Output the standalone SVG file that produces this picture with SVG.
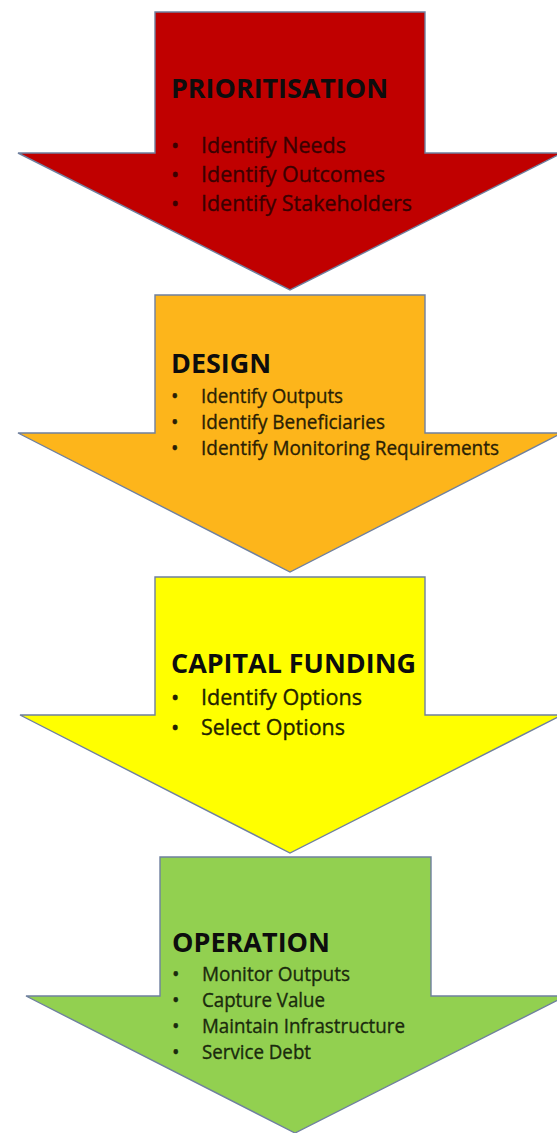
<svg xmlns="http://www.w3.org/2000/svg" width="557" height="1133" viewBox="0 0 557 1133">
<style>
.arrow{stroke:#6f809f;stroke-width:1.4;stroke-linejoin:miter}
.title{font-family:"Open Sans","Liberation Sans",sans-serif;font-weight:bold;font-size:26px;fill:#0d0d0d}
.item{font-family:"Open Sans","Liberation Sans",sans-serif;font-size:20px;stroke-width:0.35}
.b1{fill:#3a0000;stroke:#3a0000;font-size:22px}
.b2{fill:#2a1f05;stroke:#2a1f05}
.b3{fill:#222200;stroke:#222200;font-size:22px}
.b4{fill:#1a2a0d;stroke:#1a2a0d}
</style>
<rect width="557" height="1133" fill="#ffffff"/>
<g id="connectors"/>
<g id="prioritisation">
<polygon class="arrow" fill="#C00000" points="155,12 425,12 425,153 562,153 290,290 18,153 155,153"/>
<text class="title" x="171" y="98" textLength="217" lengthAdjust="spacingAndGlyphs">PRIORITISATION</text>
<g class="item b1">
<text x="171" y="153">•</text><text x="201" y="153" textLength="145" lengthAdjust="spacingAndGlyphs">Identify Needs</text>
<text x="171" y="182">•</text><text x="201" y="182" textLength="184" lengthAdjust="spacingAndGlyphs">Identify Outcomes</text>
<text x="171" y="211">•</text><text x="201" y="211" textLength="211" lengthAdjust="spacingAndGlyphs">Identify Stakeholders</text>
</g>
</g>
<g id="design">
<polygon class="arrow" fill="#FDB51B" points="155,295 425,295 425,433 562,433 290,572 18,433 155,433"/>
<text class="title" x="171" y="373" textLength="100" lengthAdjust="spacingAndGlyphs">DESIGN</text>
<g class="item b2">
<text x="171" y="403">•</text><text x="201" y="403" textLength="142" lengthAdjust="spacingAndGlyphs">Identify Outputs</text>
<text x="171" y="429">•</text><text x="201" y="429" textLength="184" lengthAdjust="spacingAndGlyphs">Identify Beneficiaries</text>
<text x="171" y="455">•</text><text x="201" y="455" textLength="298" lengthAdjust="spacingAndGlyphs">Identify Monitoring Requirements</text>
</g>
</g>
<g id="capital-funding">
<polygon class="arrow" fill="#FFFF00" points="155,577 425,577 425,715 562,715 290,853 20,715 155,715"/>
<text class="title" x="171" y="673" textLength="245" lengthAdjust="spacingAndGlyphs">CAPITAL FUNDING</text>
<g class="item b3">
<text x="171" y="705">•</text><text x="201" y="705" textLength="161" lengthAdjust="spacingAndGlyphs">Identify Options</text>
<text x="171" y="735">•</text><text x="201" y="735" textLength="144" lengthAdjust="spacingAndGlyphs">Select Options</text>
</g>
</g>
<g id="operation">
<polygon class="arrow" fill="#92D050" points="160,857 431,857 431,996 566,996 295,1133 26,996 160,996"/>
<text class="title" x="172" y="952" textLength="158" lengthAdjust="spacingAndGlyphs">OPERATION</text>
<g class="item b4">
<text x="172" y="981">•</text><text x="202" y="981" textLength="148" lengthAdjust="spacingAndGlyphs">Monitor Outputs</text>
<text x="172" y="1007">•</text><text x="202" y="1007" textLength="123" lengthAdjust="spacingAndGlyphs">Capture Value</text>
<text x="172" y="1033">•</text><text x="202" y="1033" textLength="203" lengthAdjust="spacingAndGlyphs">Maintain Infrastructure</text>
<text x="172" y="1059">•</text><text x="202" y="1059" textLength="109" lengthAdjust="spacingAndGlyphs">Service Debt</text>
</g>
</g>
</svg>
